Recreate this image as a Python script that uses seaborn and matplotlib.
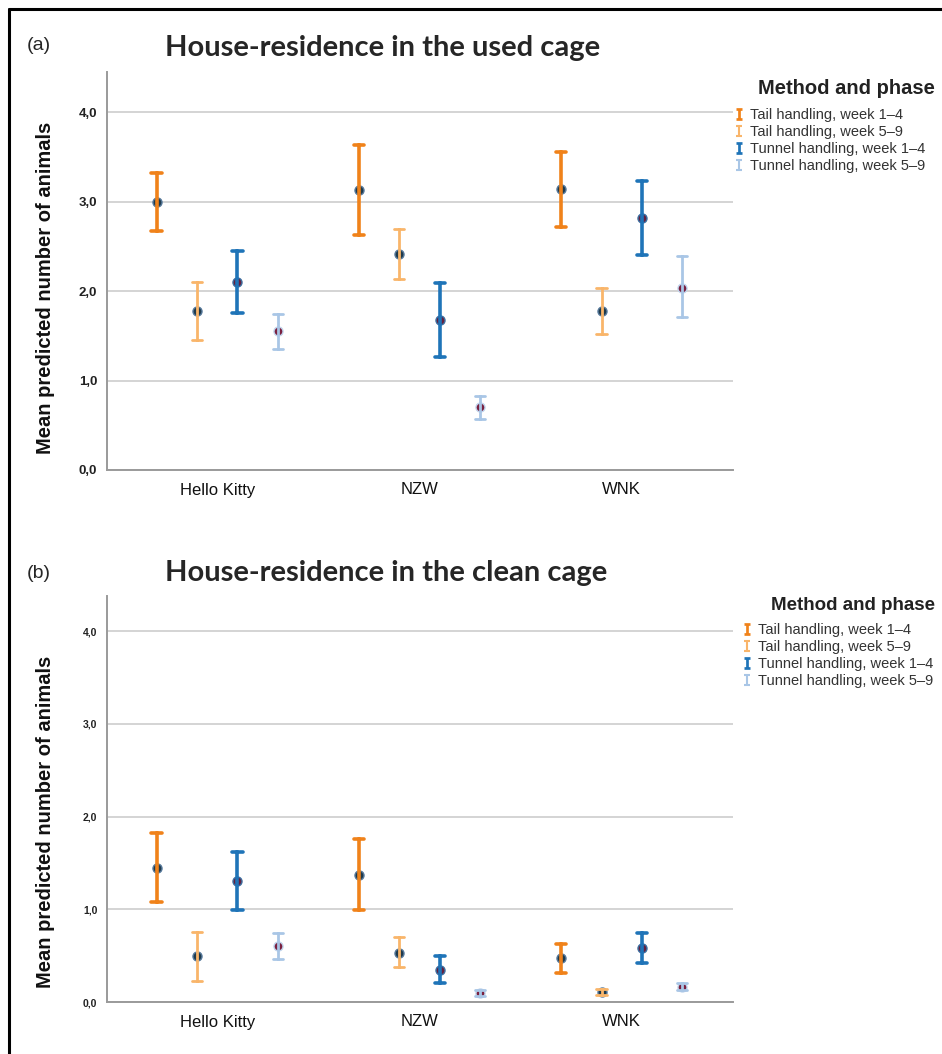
import numpy as np
import pandas as pd
import matplotlib
matplotlib.use("Agg")
import matplotlib.pyplot as plt
from matplotlib.lines import Line2D
from matplotlib.path import Path
from matplotlib.ticker import FixedLocator, FixedFormatter
import seaborn as sns

# ---- data -----------------------------------------------------------------
strains = ["Hello Kitty", "NZW", "WNK"]
groups = ["Tail handling, week 1\u20134", "Tail handling, week 5\u20139",
          "Tunnel handling, week 1\u20134", "Tunnel handling, week 5\u20139"]

# House-residence in the used cage (rows: groups, cols: strains)
used_mean = [[3.00, 3.13, 3.14],
             [1.78, 2.41, 1.78],
             [2.10, 1.68, 2.82],
             [1.55, 0.70, 2.04]]
used_lo = [[2.67, 2.63, 2.72],
           [1.45, 2.13, 1.52],
           [1.75, 1.26, 2.40],
           [1.35, 0.57, 1.71]]
used_hi = [[3.32, 3.63, 3.55],
           [2.10, 2.69, 2.03],
           [2.45, 2.09, 3.23],
           [1.74, 0.83, 2.39]]

# House-residence in the clean cage
clean_mean = [[1.45, 1.37, 0.48],
              [0.50, 0.53, 0.11],
              [1.30, 0.35, 0.58],
              [0.60, 0.10, 0.16]]
clean_lo = [[1.08, 0.99, 0.31],
            [0.23, 0.38, 0.08],
            [0.99, 0.20, 0.42],
            [0.46, 0.07, 0.13]]
clean_hi = [[1.82, 1.76, 0.63],
            [0.76, 0.70, 0.14],
            [1.62, 0.50, 0.74],
            [0.74, 0.13, 0.20]]

y_ticks = [0.0, 1.0, 2.0, 3.0, 4.0]
y_tick_labels = ["0,0", "1,0", "2,0", "3,0", "4,0"]

# ---- styling --------------------------------------------------------------
sns.set_style("white")
plt.rcParams["font.family"] = ["Liberation Sans", "DejaVu Sans"]

line_colors = ["#f0821a", "#f9b56a", "#1f74b8", "#a9c6e6"]
face_colors = ["#1f3a4c", "#1f3a4c", "#64203f", "#7a2040"]
edge_colors = ["#55789a", "#55789a", "#3c6ea0", "#c0d4ec"]
err_widths = [2.6, 2.0, 2.6, 2.0]
narrow = ["Liberation Sans Narrow", "Liberation Sans", "DejaVu Sans"]
title_font = ["Lato", "Open Sans", "DejaVu Sans"]

W, H = 942, 1054
fig = plt.figure(figsize=(W / 100, H / 100), dpi=100)


def fx(px):
    return px / W


def fy(py):
    return 1 - py / H


def long_frame(mean, lo, hi):
    rows = []
    for gi, g in enumerate(groups):
        for si, s in enumerate(strains):
            # lower bound, estimate, upper bound: median gives the estimate,
            # the full percentile interval spans the bounds
            for v in (lo[gi][si], mean[gi][si], hi[gi][si]):
                rows.append({"strain": s, "group": g, "value": v})
    return pd.DataFrame(rows)


def draw_panel(ax, mean, lo, hi, ymax, tick_size):
    df = long_frame(mean, lo, hi)
    palette = dict(zip(groups, line_colors))
    for gi, g in enumerate(groups):
        sns.pointplot(
            data=df[df["group"] == g], x="strain", y="value", hue="group",
            order=strains, hue_order=groups, palette=palette,
            estimator="median", errorbar=("pi", 100), dodge=0.6,
            capsize=0.05, linestyle="none", marker="o",
            markersize=6.5, markerfacecolor=face_colors[gi],
            markeredgecolor=edge_colors[gi], markeredgewidth=1.0,
            err_kws={"linewidth": err_widths[gi]}, zorder=5,
            legend=False, ax=ax,
        )
    ax.set_xlim(-0.545, 2.55)
    ax.set_ylim(0, ymax)
    ax.yaxis.set_major_locator(FixedLocator(y_ticks))
    ax.yaxis.set_major_formatter(FixedFormatter(y_tick_labels))
    ax.grid(axis="y", color="#d4d4d4", linewidth=1.4, zorder=0)
    ax.grid(axis="x", visible=False)
    ax.set_axisbelow(True)
    for side in ("top", "right"):
        ax.spines[side].set_visible(False)
    for side in ("left", "bottom"):
        ax.spines[side].set_color("#9a9a9a")
        ax.spines[side].set_linewidth(1.4)
    ax.tick_params(axis="both", length=0)
    ax.tick_params(axis="y", pad=7)
    ax.tick_params(axis="x", pad=9)
    for t in ax.get_yticklabels():
        t.set_fontfamily(narrow)
        t.set_fontweight("bold")
        t.set_fontsize(tick_size)
        t.set_color("#222222")
    for t in ax.get_xticklabels():
        t.set_fontsize(12)
        t.set_color("#111111")
    ax.set_xlabel("")
    ax.set_ylabel("Mean predicted number of animals", fontfamily=narrow,
                  fontweight="bold", fontsize=14.5, color="#111111")


# ---- panel (a) ------------------------------------------------------------
ax_a = fig.add_axes([fx(107), fy(470), fx(733 - 107), (470 - 72) / H])
draw_panel(ax_a, used_mean, used_lo, used_hi, 4.45, 9.5)
ax_a.yaxis.set_label_coords(-0.083, 0.457)

# ---- panel (b) ------------------------------------------------------------
ax_b = fig.add_axes([fx(107), fy(1002), fx(733 - 107), (1002 - 596) / H])
draw_panel(ax_b, clean_mean, clean_lo, clean_hi, 4.38, 7.5)
ax_b.yaxis.set_label_coords(-0.083, 0.443)

# ---- titles and panel letters ---------------------------------------------
fig.text(fx(27), fy(45), "(a)", fontsize=14, va="center", ha="left")
fig.text(fx(165), fy(48), "House-residence in the used cage",
         fontfamily=title_font, fontweight="bold", fontsize=21,
         va="center", ha="left")
fig.text(fx(27), fy(573), "(b)", fontsize=14, va="center", ha="left")
fig.text(fx(165), fy(573), "House-residence in the clean cage",
         fontfamily=title_font, fontweight="bold", fontsize=21,
         va="center", ha="left")

# ---- legends --------------------------------------------------------------
ibeam = Path([(-0.6, 1), (0.6, 1), (0, 1), (0, -1), (-0.6, -1), (0.6, -1)],
             [Path.MOVETO, Path.LINETO, Path.MOVETO, Path.LINETO,
              Path.MOVETO, Path.LINETO])
handles = [Line2D([], [], linestyle="none", marker=ibeam, markersize=7.5,
                  markerfacecolor="none", markeredgecolor=c,
                  markeredgewidth=w * 0.75)
           for c, w in zip(line_colors, err_widths)]


def add_legend(title_x, title_y, x, y, title_size):
    fig.text(fx(title_x), fy(title_y), "Method and phase", fontfamily=narrow,
             fontweight="bold", fontsize=title_size, color="#222222",
             ha="right", va="center")
    leg = fig.legend(handles, groups, loc="upper left",
                     bbox_to_anchor=(fx(x), fy(y)), frameon=False,
                     fontsize=10.5, handlelength=0.8, handletextpad=0.35,
                     labelspacing=0.2, borderaxespad=0, borderpad=0)
    for t in leg.get_texts():
        t.set_color("#333333")
    return leg


add_legend(935, 88, 733, 108, 14.5)
add_legend(935, 606, 741, 623, 13.5)

# ---- frame (left and top edges) -------------------------------------------
fig.add_artist(Line2D([fx(9), fx(9)], [fy(9), 0], color="black", linewidth=2.2))
fig.add_artist(Line2D([fx(9), 1], [fy(9), fy(9)], color="black", linewidth=2.2))

fig.savefig("out.png", dpi=100)
